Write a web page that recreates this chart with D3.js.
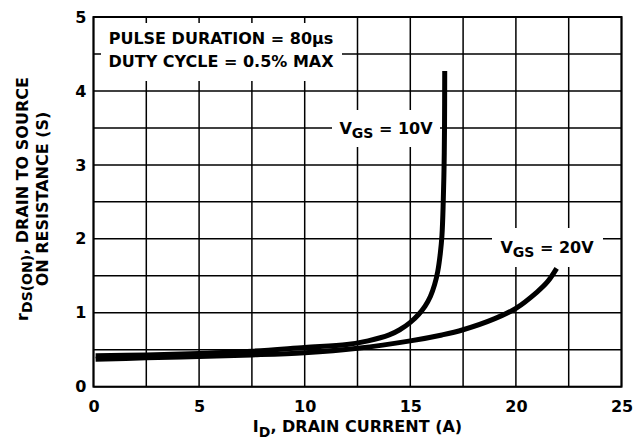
<!DOCTYPE html>
<html>
<head>
<meta charset="utf-8">
<script src="https://cdn.jsdelivr.net/npm/d3@7"></script>
<style>
  body { margin: 0; background: #fff; }
  svg text { font-family: "DejaVu Sans", sans-serif; font-weight: bold; fill: #000; }
</style>
</head>
<body>
<div id="chart"></div>
<script>
// ---- data ----
var xTicks = [0, 5, 10, 15, 20, 25];
var yTicks = [0, 1, 2, 3, 4, 5];

// VGS = 10V
var id10 = [0.1, 2.5, 5, 7.5, 10, 12, 13, 14, 14.5, 15, 15.4, 15.7, 15.95, 16.15, 16.3, 16.42, 16.5, 16.56, 16.6, 16.62, 16.63];
var r10  = [0.42, 0.43, 0.45, 0.48, 0.53, 0.57, 0.62, 0.70, 0.77, 0.87, 0.98, 1.09, 1.22, 1.38, 1.56, 1.8, 2.05, 2.5, 3.0, 3.5, 4.27];

// VGS = 20V
var id20 = [0.1, 2.5, 5, 7.5, 10, 12.5, 15, 16.5, 17.5, 19, 20, 21, 21.5, 21.93];
var r20  = [0.37, 0.39, 0.41, 0.43, 0.46, 0.52, 0.62, 0.70, 0.77, 0.92, 1.06, 1.28, 1.42, 1.6];

var W = 636, H = 447;
var margin = { top: 17, right: 14.5, bottom: 60.3, left: 93.5 };
var width = W - margin.left - margin.right,
    height = H - margin.top - margin.bottom;

var svg = d3.select("#chart").append("svg")
    .attr("width", W)
    .attr("height", H);

var g = svg.append("g")
    .attr("transform", "translate(" + margin.left + "," + margin.top + ")");

var x = d3.scaleLinear().domain([0, 25]).range([0, width]);
var y = d3.scaleLinear().domain([0, 5]).range([height, 0]);

// grid every 2.5 A and 0.5 ohm
g.append("g").selectAll("line")
    .data(d3.range(0, 25.01, 2.5))
    .enter().append("line")
    .attr("x1", function(d) { return x(d); })
    .attr("x2", function(d) { return x(d); })
    .attr("y1", 0).attr("y2", height)
    .attr("stroke", "#000").attr("stroke-width", 1.5);

g.append("g").selectAll("line")
    .data(d3.range(0, 5.01, 0.5))
    .enter().append("line")
    .attr("y1", function(d) { return y(d); })
    .attr("y2", function(d) { return y(d); })
    .attr("x1", 0).attr("x2", width)
    .attr("stroke", "#000").attr("stroke-width", 1.5);

g.append("rect")
    .attr("width", width).attr("height", height)
    .attr("fill", "none").attr("stroke", "#000").attr("stroke-width", 2);

// white boxes behind the notes
var boxes = [
    { x0: 101, y0: 23, x1: 342, y1: 81 },
    { x0: 332, y0: 110, x1: 440, y1: 147 },
    { x0: 492, y0: 228, x1: 603, y1: 267 }
];
svg.selectAll("rect.box")
    .data(boxes)
    .enter().append("rect")
    .attr("class", "box")
    .attr("x", function(d) { return d.x0; })
    .attr("y", function(d) { return d.y0; })
    .attr("width", function(d) { return d.x1 - d.x0; })
    .attr("height", function(d) { return d.y1 - d.y0; })
    .attr("fill", "#fff");

// curves
var line = d3.line()
    .x(function(d) { return x(d[0]); })
    .y(function(d) { return y(d[1]); })
    .curve(d3.curveCatmullRom.alpha(0.5));

[d3.zip(id20, r20), d3.zip(id10, r10)].forEach(function(pts) {
    g.append("path")
        .datum(pts)
        .attr("d", line)
        .attr("fill", "none")
        .attr("stroke", "#000")
        .attr("stroke-width", 5);
});

// axes (labels only)
var yAxis = g.append("g")
    .call(d3.axisLeft(y).tickValues(yTicks).tickSize(0).tickPadding(7).tickFormat(d3.format("d")));
var xAxis = g.append("g")
    .attr("transform", "translate(0," + height + ")")
    .call(d3.axisBottom(x).tickValues(xTicks).tickSize(0).tickPadding(14).tickFormat(d3.format("d")));
[yAxis, xAxis].forEach(function(a) {
    a.select(".domain").remove();
    a.selectAll("text")
        .attr("font-family", "DejaVu Sans, sans-serif")
        .attr("font-weight", "bold")
        .attr("font-size", 16)
        .attr("fill", "#000");
});

// notes
svg.append("text").attr("x", 221).attr("y", 43.5).attr("text-anchor", "middle")
    .attr("font-size", 16).text("PULSE DURATION = 80\u03bcs");
svg.append("text").attr("x", 221).attr("y", 66.8).attr("text-anchor", "middle")
    .attr("font-size", 16).text("DUTY CYCLE = 0.5% MAX");

function vgsLabel(cx, by, val) {
    var t = svg.append("text").attr("x", cx).attr("y", by)
        .attr("text-anchor", "middle").attr("font-size", 16);
    t.append("tspan").text("V");
    t.append("tspan").attr("dy", 4).attr("font-size", 14).text("GS");
    t.append("tspan").attr("dy", -4).text(" = " + val);
}
vgsLabel(386, 133.5, "10V");
vgsLabel(547, 253, "20V");

// axis titles
var xt = svg.append("text").attr("x", 357.5).attr("y", 431.7)
    .attr("text-anchor", "middle").attr("font-size", 16);
xt.append("tspan").text("I");
xt.append("tspan").attr("dy", 5).attr("font-size", 14).text("D");
xt.append("tspan").attr("dy", -5).text(", DRAIN CURRENT (A)");

var yt = svg.append("g").attr("transform", "translate(27.5,199) rotate(-90)");
var l1 = yt.append("text").attr("text-anchor", "middle").attr("font-size", 16);
l1.append("tspan").text("r");
l1.append("tspan").attr("dy", 4).attr("font-size", 14).text("DS(ON)");
l1.append("tspan").attr("dy", -4).text(", DRAIN TO SOURCE");
yt.append("text").attr("text-anchor", "middle").attr("font-size", 16)
    .attr("y", 20).text("ON RESISTANCE (S)");
</script>
</body>
</html>
